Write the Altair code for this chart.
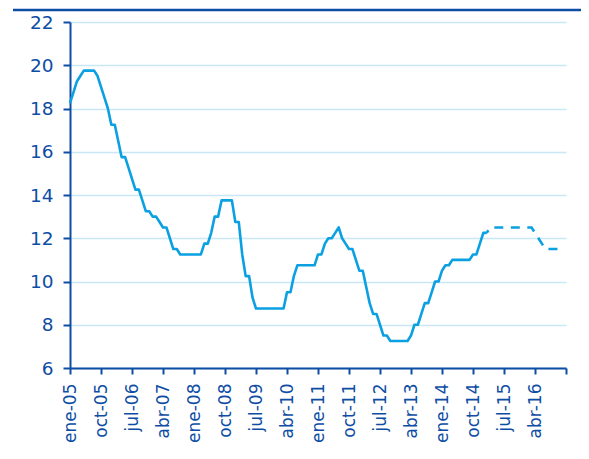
import altair as alt
import pandas as pd

# Tasa mensual (ene-05 .. dic-16)
valores = [
    18.25, 18.75, 19.25, 19.50, 19.75, 19.75, 19.75, 19.75, 19.50, 19.00, 18.50, 18.00,  # 2005
    17.25, 17.25, 16.50, 15.75, 15.75, 15.25, 14.75, 14.25, 14.25, 13.75, 13.25, 13.25,  # 2006
    13.00, 13.00, 12.75, 12.50, 12.50, 12.00, 11.50, 11.50, 11.25, 11.25, 11.25, 11.25,  # 2007
    11.25, 11.25, 11.25, 11.75, 11.75, 12.25, 13.00, 13.00, 13.75, 13.75, 13.75, 13.75,  # 2008
    12.75, 12.75, 11.25, 10.25, 10.25, 9.25, 8.75, 8.75, 8.75, 8.75, 8.75, 8.75,         # 2009
    8.75, 8.75, 8.75, 9.50, 9.50, 10.25, 10.75, 10.75, 10.75, 10.75, 10.75, 10.75,       # 2010
    11.25, 11.25, 11.75, 12.00, 12.00, 12.25, 12.50, 12.00, 11.75, 11.50, 11.50, 11.00,  # 2011
    10.50, 10.50, 9.75, 9.00, 8.50, 8.50, 8.00, 7.50, 7.50, 7.25, 7.25, 7.25,            # 2012
    7.25, 7.25, 7.25, 7.50, 8.00, 8.00, 8.50, 9.00, 9.00, 9.50, 10.00, 10.00,            # 2013
    10.50, 10.75, 10.75, 11.00, 11.00, 11.00, 11.00, 11.00, 11.00, 11.25, 11.25, 11.75,  # 2014
    12.25, 12.25, 12.50, 12.50, 12.50, 12.50, 12.50, 12.50, 12.50, 12.50, 12.50, 12.50,  # 2015
    12.50, 12.50, 12.50, 12.25, 12.00, 11.75, 11.50, 11.50, 11.50, 11.50, 11.50, 11.50,  # 2016
]
ultimo_observado = 121  # feb-15: a partir de aquí, proyección (línea discontinua)

etiquetas_x = ["ene-05", "oct-05", "jul-06", "abr-07", "ene-08", "oct-08", "jul-09",
               "abr-10", "ene-11", "oct-11", "jul-12", "abr-13", "ene-14", "oct-14",
               "jul-15", "abr-16", ""]
posiciones_x = [9 * i for i in range(len(etiquetas_x))]
ticks_y = [6, 8, 10, 12, 14, 16, 18, 20, 22]

AZUL_OSCURO = "#0E4DA4"
AZUL_LINEA = "#0AA0E2"
GRID = "#C8E8F8"

df = pd.DataFrame({"mes": list(range(len(valores))), "tasa": valores})
df_obs = df[df["mes"] <= ultimo_observado]
df_proy = df[df["mes"] >= ultimo_observado]

label_expr = "[" + ",".join(f"'{e}'" for e in etiquetas_x) + "][round(datum.value/9)]"

x_enc = alt.X(
    "mes:Q",
    title=None,
    scale=alt.Scale(domain=[0, 144], nice=False, zero=False),
    axis=alt.Axis(values=posiciones_x, labelExpr=label_expr, labelAngle=270,
                  grid=False, tickSize=6, labelPadding=9, labelOverlap=False,
                  labelFontSize=17),
)
y_enc = alt.Y(
    "tasa:Q",
    title=None,
    scale=alt.Scale(domain=[6, 22], nice=False, zero=False),
    axis=alt.Axis(values=ticks_y, grid=True, gridColor=GRID, gridWidth=1.5,
                  tickSize=7, labelPadding=10, labelFontSize=18.5),
)

obs = alt.Chart(df_obs).mark_line(color=AZUL_LINEA, strokeWidth=2.6, strokeJoin="round").encode(
    x=x_enc, y=y_enc)
proy = alt.Chart(df_proy).mark_line(color=AZUL_LINEA, strokeWidth=2.6,
                                   strokeDash=[9, 7.5], strokeDashOffset=6).encode(
    x=x_enc, y=y_enc)

regla = alt.Chart(pd.DataFrame({"a": [0]})).mark_rule(color=AZUL_OSCURO, strokeWidth=2.5).encode(
    x=alt.value(-57), x2=alt.value(511), y=alt.value(-12))

chart = alt.layer(obs, proy, regla).properties(
    width=496, height=346,
    autosize=alt.AutoSizeParams(type="none"),
    padding={"left": 62, "top": 14, "right": 15, "bottom": 85},
).configure_view(stroke=None).configure_axis(
    domainColor=AZUL_OSCURO, domainWidth=2, tickColor=AZUL_OSCURO, tickWidth=2,
    labelColor=AZUL_OSCURO, labelFont="DejaVu Sans",
)

chart.save("out.html", embed_options={"renderer": "svg", "actions": False})
